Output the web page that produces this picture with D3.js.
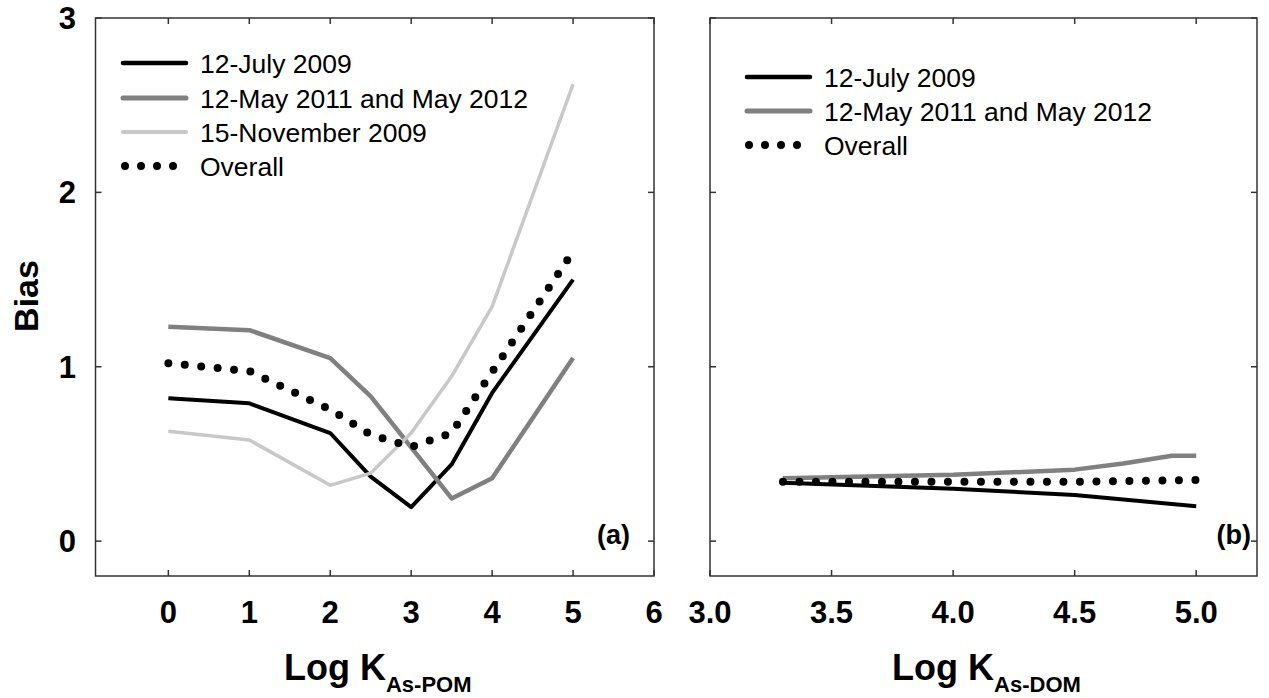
<!DOCTYPE html>
<html>
<head>
<meta charset="utf-8">
<script src="https://cdn.jsdelivr.net/npm/d3@7"></script>
<style>
  html, body { margin: 0; padding: 0; background: #fff; }
  svg { display: block; font-family: "Liberation Sans", Arial, sans-serif; }
</style>
</head>
<body>
<svg id="chart" width="1269" height="698"></svg>
<script>
// ---- Data ----
const julyA_x    = [0, 1, 2, 2.5, 3, 3.5, 4, 5];
const julyA_y    = [0.82, 0.79, 0.62, 0.37, 0.195, 0.44, 0.85, 1.50];
const mayA_x     = [0, 1, 2, 2.5, 3.5, 4, 5];
const mayA_y     = [1.23, 1.21, 1.05, 0.83, 0.245, 0.36, 1.05];
const novA_x     = [0, 1, 2, 2.5, 3, 3.5, 4, 5];
const novA_y     = [0.63, 0.58, 0.32, 0.39, 0.62, 0.945, 1.345, 2.62];
const overallA_x = [0, 1, 2, 2.5, 3, 3.5, 4, 5];
const overallA_y = [1.02, 0.975, 0.755, 0.61, 0.54, 0.62, 0.97, 1.66];

const julyB_x    = [3.3, 4.0, 4.5, 5.0];
const julyB_y    = [0.335, 0.30, 0.265, 0.20];
const mayB_x     = [3.3, 4.0, 4.5, 4.7, 4.9, 5.0];
const mayB_y     = [0.36, 0.38, 0.41, 0.445, 0.49, 0.49];
const overallB_x = [3.3, 4.0, 4.5, 5.0];
const overallB_y = [0.34, 0.34, 0.34, 0.35];

const xTicksA = [0, 1, 2, 3, 4, 5, 6];
const xTicksB = [3.0, 3.5, 4.0, 4.5, 5.0];
const yTicks  = [0, 1, 2, 3];

const legendA = ["12-July 2009", "12-May 2011 and May 2012", "15-November 2009", "Overall"];
const legendB = ["12-July 2009", "12-May 2011 and May 2012", "Overall"];

// ---- Styles ----
const styles = {
  july:    { stroke: "#000000", width: 4, dash: null },
  may:     { stroke: "#808080", width: 4.5, dash: null },
  nov:     { stroke: "#c8c8c8", width: 3.5, dash: null },
  overall: { stroke: "#000000", width: 8, dash: "0,16.5" }
};

const svg = d3.select("#chart");
svg.append("rect").attr("width", 1269).attr("height", 698).attr("fill", "#fff");

const plotTop = 18, plotBottom = 576;
const y = d3.scaleLinear().domain([-0.2, 3]).range([plotBottom, plotTop]);
const xA = d3.scaleLinear().domain([-0.9, 6]).range([95.5, 654]);
const xB = d3.scaleLinear().domain([3.0, 5.25]).range([710, 1257]);

function zip(xs, ys) { return xs.map((v, i) => [v, ys[i]]); }

function drawPanel(x, xTicks, fmt, showY, series, legend, legendPos, tag, tagX, titleSub) {
  const g = svg.append("g");
  const [x0, x1] = x.range();

  // frame
  g.append("rect").attr("x", x0).attr("y", plotTop).attr("width", x1 - x0).attr("height", plotBottom - plotTop)
    .attr("fill", "none").attr("stroke", "#333").attr("stroke-width", 1.5);

  // ticks (inward, all four sides)
  const tl = 6;
  const tickStyle = s => s.attr("stroke", "#333").attr("stroke-width", 1.5);
  xTicks.forEach(t => {
    tickStyle(g.append("line").attr("x1", x(t)).attr("x2", x(t)).attr("y1", plotBottom).attr("y2", plotBottom - tl));
    tickStyle(g.append("line").attr("x1", x(t)).attr("x2", x(t)).attr("y1", plotTop).attr("y2", plotTop + tl));
    g.append("text").attr("x", x(t)).attr("y", 623).attr("text-anchor", "middle")
      .attr("font-size", 31).attr("font-weight", "bold").attr("fill", "#000").text(fmt(t));
  });
  yTicks.forEach(t => {
    tickStyle(g.append("line").attr("x1", x0).attr("x2", x0 + tl).attr("y1", y(t)).attr("y2", y(t)));
    tickStyle(g.append("line").attr("x1", x1).attr("x2", x1 - tl).attr("y1", y(t)).attr("y2", y(t)));
    if (showY) {
      g.append("text").attr("x", 76).attr("y", y(t) + 11).attr("text-anchor", "end")
        .attr("font-size", 31).attr("font-weight", "bold").attr("fill", "#000").text(t);
    }
  });

  // lines
  const line = d3.line().x(d => x(d[0])).y(d => y(d[1]));
  series.forEach(s => {
    const st = styles[s.key];
    const p = g.append("path").datum(s.data).attr("d", line).attr("fill", "none")
      .attr("stroke", st.stroke).attr("stroke-width", st.width)
      .attr("stroke-linejoin", "round").attr("stroke-linecap", st.dash ? "round" : "butt");
    if (st.dash) p.attr("stroke-dasharray", st.dash);
  });

  // legend
  legend.forEach((lab, i) => {
    const key = series[i].key;
    const st = styles[key];
    const cy = legendPos.y[i];
    if (st.dash) {
      g.append("line").attr("x1", legendPos.lx + 2).attr("x2", legendPos.lx + 51).attr("y1", cy).attr("y2", cy)
        .attr("stroke", st.stroke).attr("stroke-width", 8).attr("stroke-linecap", "round")
        .attr("stroke-dasharray", "0,16");
    } else {
      g.append("line").attr("x1", legendPos.lx).attr("x2", legendPos.lx + 63).attr("y1", cy).attr("y2", cy)
        .attr("stroke", st.stroke).attr("stroke-width", st.width + 0.5).attr("stroke-linecap", "round");
    }
    g.append("text").attr("x", legendPos.tx).attr("y", cy + 9.5).attr("font-size", 26.5)
      .attr("fill", "#000").text(lab);
  });

  // panel tag
  g.append("text").attr("x", tagX).attr("y", 544).attr("text-anchor", "end")
    .attr("font-size", 27).attr("font-weight", "bold").attr("fill", "#000").text(tag);

  // x title
  const t = g.append("text").attr("x", (x0 + x1) / 2 + 3).attr("y", 680).attr("text-anchor", "middle")
    .attr("font-weight", "bold").attr("fill", "#000");
  t.append("tspan").attr("font-size", 36).text("Log K");
  t.append("tspan").attr("font-size", 22).attr("dy", 12).text(titleSub);
}

drawPanel(xA, xTicksA, d3.format("d"), true,
  [
    { key: "july", data: zip(julyA_x, julyA_y) },
    { key: "may", data: zip(mayA_x, mayA_y) },
    { key: "nov", data: zip(novA_x, novA_y) },
    { key: "overall", data: zip(overallA_x, overallA_y) }
  ],
  legendA, { lx: 123, tx: 200, y: [63, 98, 132, 166] }, "(a)", 630, "As-POM");

drawPanel(xB, xTicksB, d3.format(".1f"), false,
  [
    { key: "july", data: zip(julyB_x, julyB_y) },
    { key: "may", data: zip(mayB_x, mayB_y) },
    { key: "overall", data: zip(overallB_x, overallB_y) }
  ],
  legendB, { lx: 747, tx: 824, y: [77, 111, 145] }, "(b)", 1251, "As-DOM");

// y title
svg.append("text").attr("transform", "translate(38,296) rotate(-90)").attr("text-anchor", "middle")
  .attr("font-size", 34).attr("font-weight", "bold").attr("fill", "#000").text("Bias");
</script>
</body>
</html>
